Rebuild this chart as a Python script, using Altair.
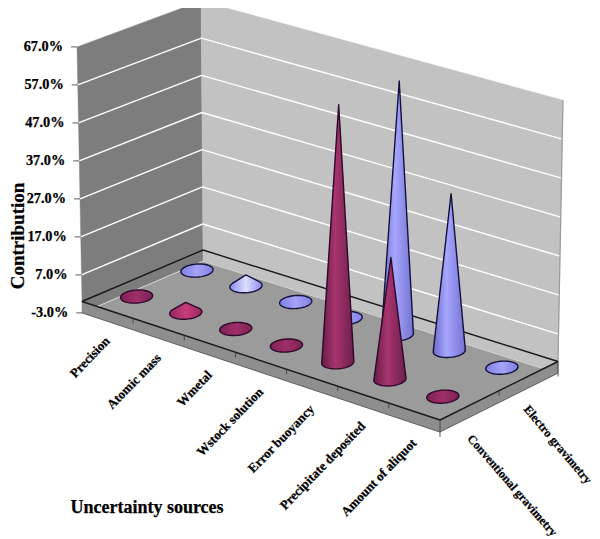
import math
import altair as alt
import pandas as pd

# ---------- chart values ----------
categories = ["Precision", "Atomic mass", "Wmetal", "Wstock solution",
              "Error buoyancy", "Precipitate deposited", "Amount of aliquot"]
series_names = ["Conventional gravimetry", "Electro gravimetry"]
conventional = [0, 2.7, 0, 0, 66.0, 31.0, 0]
electro = [0, 3.0, 0, 0, 65.7, 40.5, 0]
value_ticks = [-3, 7, 17, 27, 37, 47, 57, 67]

# ---------- oblique projection of the 3-D box (category, series, value) -> page ----------
corner_base = {"L": (82, 301.5), "F": (440, 420), "B": (203, 250), "R": (558, 361.5)}
corner_rise = {"L": (-5 / 67, -3.80), "F": (3.5 / 67, -4.00), "B": (-2 / 67, -3.716), "R": (5 / 67, -3.90)}
VMIN, VMAX = -3, 67
FONT = "Liberation Serif"


def bil(d, u, v):
    out = []
    for k in (0, 1):
        a = d["L"][k] + (d["F"][k] - d["L"][k]) * u
        b = d["B"][k] + (d["R"][k] - d["B"][k]) * u
        out.append(a + (b - a) * v)
    return out


def pos(u, v, val):
    b = bil(corner_base, u, v)
    r = bil(corner_rise, u, v)
    return (b[0] + r[0] * val, b[1] + r[1] * val)


def cat_u(i):
    u = (i + 0.5) / len(categories)
    return u - 0.05 * u * (1 - u)


def ser_v(j):
    return (j + 0.5) / len(series_names)


X = alt.X("x:Q", axis=None, scale=alt.Scale(domain=[8, 592], nice=False, zero=False))
Y = alt.Y("y:Q", axis=None, scale=alt.Scale(domain=[539, 8], nice=False, zero=False))
layers = []


def poly(pts, fill, stroke=None, sw=0.4):
    df = pd.DataFrame({"x": [p[0] for p in pts], "y": [p[1] for p in pts], "o": range(len(pts))})
    kw = dict(interpolate="linear-closed", fill=fill, strokeWidth=sw, strokeJoin="round")
    kw["stroke"] = stroke if stroke else (fill if isinstance(fill, str) else "#000000")
    layers.append(alt.Chart(df).mark_line(**kw).encode(x=X, y=Y, order="o:Q"))


def segs(seglist, color, width):
    rows = []
    for g, (a, b) in enumerate(seglist):
        rows.append({"x": a[0], "y": a[1], "g": g, "o": 0})
        rows.append({"x": b[0], "y": b[1], "g": g, "o": 1})
    layers.append(alt.Chart(pd.DataFrame(rows)).mark_line(color=color, strokeWidth=width)
                  .encode(x=X, y=Y, detail="g:N", order="o:Q"))


def text(rows, size, angle=0, align="center", baseline="middle"):
    layers.append(alt.Chart(pd.DataFrame(rows)).mark_text(
        font=FONT, fontWeight="bold", fontSize=size, angle=angle, align=align,
        baseline=baseline, color="#000000", stroke="#000000", strokeWidth=0.25)
        .encode(x=X, y=Y, text="t:N"))


def grad(stops):
    return alt.Gradient(gradient="linear", x1=0, x2=1, y1=0, y2=0,
                        stops=[alt.GradientStop(offset=o, color=c) for o, c in stops])


def hull(pts):
    pts = sorted(set(pts))
    def half(seq):
        h = []
        for p in seq:
            while len(h) > 1 and (h[-1][0] - h[-2][0]) * (p[1] - h[-2][1]) - (h[-1][1] - h[-2][1]) * (p[0] - h[-2][0]) <= 0:
                h.pop()
            h.append(p)
        return h[:-1]
    return half(pts) + half(pts[::-1])


# ---------- walls ----------
poly([pos(0, 0, VMIN), pos(0, 0, VMAX), pos(0, 1, VMAX), pos(0, 1, VMIN)], "#7d7d7d")
poly([pos(0, 1, VMIN), pos(0, 1, VMAX), pos(1, 1, VMAX), pos(1, 1, VMIN)], "#c2c2c2")
segs([(pos(0, 0, t), pos(0, 1, t)) for t in value_ticks[1:-1]]
     + [(pos(0, 1, t), pos(1, 1, t)) for t in value_ticks[1:-1]], "#ffffff", 1.4)
segs([(pos(1, 1, VMIN), pos(1, 1, VMAX))], "#9a9a9a", 1.2)

# ---------- floor slab ----------
poly([pos(0, 0, VMIN), pos(0, 1, VMIN), pos(1, 1, VMIN), pos(1, 0, VMIN)], "#9b9b9b")
segs([(pos(0, 0, VMIN), pos(0, 1, VMIN)), (pos(0, 1, VMIN), pos(1, 1, VMIN))], "#d4d4d4", 1.0)
poly([pos(0, 0, 0), pos(1, 0, 0), pos(1, 1, 0), pos(1, 1, VMIN), pos(1, 0, VMIN), pos(0, 0, VMIN)], "#8e8e8e")
segs([(pos(0, 0, VMIN), pos(1, 0, VMIN)), (pos(1, 0, VMIN), pos(1, 1, VMIN))], "#5a5a5a", 0.8)
segs([(pos(0, 0, 0), pos(0, 1, 0)), (pos(0, 1, 0), pos(1, 1, 0)),
      (pos(0, 0, 0), pos(1, 0, 0)), (pos(1, 0, 0), pos(1, 1, 0))], "#1a1a1a", 1.4)

# ---------- tick marks ----------
ticks = []
for t in value_ticks:
    p = pos(0, 0, t)
    ticks.append((p, (p[0] - 6, p[1])))
for i in range(1, len(categories) + 1):
    p = pos(i / len(categories), 0, 0)
    ticks.append((p, (p[0], p[1] + (5 if i < len(categories) else 17))))
for j in range(1, len(series_names) + 1):
    p = pos(1, j / len(series_names), 0)
    ticks.append((p, (p[0], p[1] + (5 if j < len(series_names) else 15))))
segs(ticks, "#333333", 0.8)

# ---------- cones ----------
STYLE = {
    0: dict(line="#2c0a28",
            flat=[(0, "#7c2252"), (0.5, "#a02e68"), (1, "#7c2252")],
            small=[(0, "#96285e"), (0.5, "#c83c7c"), (1, "#96285e")],
            tall=[(0, "#651c46"), (0.42, "#a8346f"), (1, "#6c1f4a")]),
    1: dict(line="#12123c",
            flat=[(0, "#8080e4"), (0.5, "#a4a4f8"), (1, "#8080e4")],
            small=[(0, "#8c8cf0"), (0.5, "#dedeff"), (1, "#8c8cf0")],
            tall=[(0, "#6c6cc8"), (0.42, "#a6a6ff"), (1, "#7272d0")]),
}
KU, KV, YSTRETCH = 0.22, 0.19, 1.07
eu = ((corner_base["F"][0] - corner_base["L"][0]) / len(categories),
      (corner_base["F"][1] - corner_base["L"][1]) / len(categories))
ev = ((corner_base["B"][0] - corner_base["L"][0]) / len(series_names),
      (corner_base["B"][1] - corner_base["L"][1]) / len(series_names))

for j, vals in [(1, electro), (0, conventional)]:
    st = STYLE[j]
    for i, val in enumerate(vals):
        c = pos(cat_u(i), ser_v(j), 0)
        ring = [(c[0] + KU * math.cos(a) * eu[0] + KV * math.sin(a) * ev[0],
                 c[1] + YSTRETCH * (KU * math.cos(a) * eu[1] + KV * math.sin(a) * ev[1]))
                for a in [n * math.pi / 36 for n in range(72)]]
        if val > 0:
            tip = pos(cat_u(i), ser_v(j), val)
            shape = hull(ring + [tip])
            fill = grad(st["small"] if val < 10 else st["tall"])
        else:
            shape = ring
            fill = grad(st["flat"])
        poly(shape, fill, stroke=st["line"], sw=1.4)

# ---------- texts ----------
text([{"x": pos(0, 0, t)[0] - 14, "y": pos(0, 0, t)[1], "t": f"{t:.1f}%"} for t in value_ticks],
     14.3, align="right")
for i, name in enumerate(categories):
    p = pos((i + 0.5) / len(categories), 0, VMIN)
    text([{"x": p[0], "y": p[1] + 17.5, "t": name}], 13.0, angle=314, align="right")
for j, name in enumerate(series_names):
    p = pos(1, ser_v(j), VMIN)
    text([{"x": p[0] + 0.5 - 2.5 * j, "y": p[1] + 19, "t": name}], 12.1, angle=49 + j, align="left")
text([{"x": 18, "y": 236, "t": "Contribution"}], 19, angle=270)
text([{"x": 147, "y": 508, "t": "Uncertainty sources"}], 18)

chart = alt.layer(*layers).properties(
    width=584, height=531, padding=0, autosize=alt.AutoSizeParams(type="none"),
    background="#ffffff",
).configure_view(stroke=None)

chart.save("out.html", embed_options={"renderer": "svg", "actions": False})
